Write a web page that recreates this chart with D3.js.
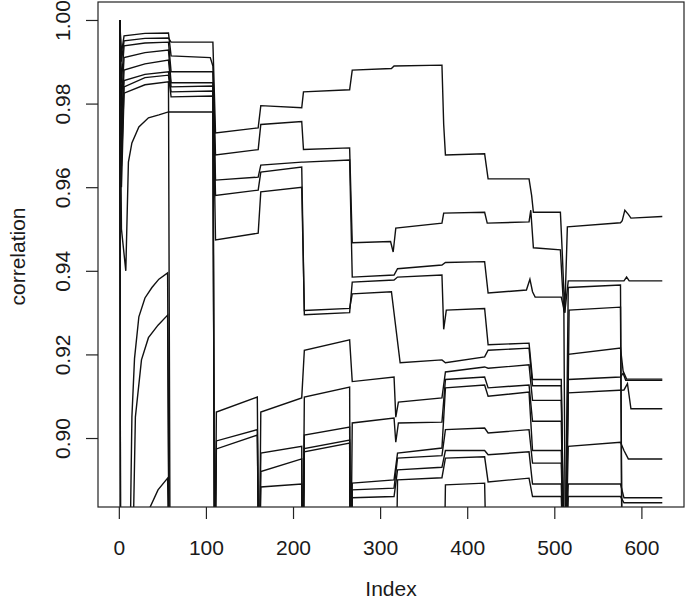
<!DOCTYPE html>
<html>
<head>
	<title>Correlation by Index</title>
	<script src="https://d3js.org/d3.v7.min.js"></script>
	<style>
	body { margin: 0; background: white; }
	text { font-family: "Liberation Sans", Arial, sans-serif; fill: #1a1a1a; }
	</style>
</head>
<body>
</body>
<script type="text/javascript">

// tick labels
const xTicks = [0, 100, 200, 300, 400, 500, 600]
const yTicks = [0.90, 0.92, 0.94, 0.96, 0.98, 1.00]

// series as [index, correlation] pairs
// anything under ~0.883 is below the plot window and gets clipped
const s1 = [[1,1],[3,0.99],[6,0.995],[30,0.9956],[57,0.9957],[60,0.9947],[108,0.9947],[111,0.973],[160,0.9742],[163,0.9795],[210,0.979],[212,0.9828],[265,0.9833],[268,0.988],[313,0.9884],[316,0.989],[371,0.9892],[373,0.975],[375,0.9677],[420,0.968],[422,0.965],[424,0.962],[471,0.962],[474,0.958],[476,0.954],[507,0.954],[509,0.945],[512,0.930],[515,0.9505],[576,0.9515],[578,0.952],[581,0.9545],[585,0.9535],[588,0.9526],[624,0.953]]
const s2 = [[1,1],[3,0.992],[6,0.9962],[30,0.9968],[57,0.9969],[60,0.9914],[105,0.991],[108,0.989],[111,0.9677],[160,0.969],[163,0.975],[210,0.9757],[212,0.969],[265,0.9694],[268,0.9467],[312,0.947],[315,0.9445],[318,0.9502],[371,0.9514],[373,0.9538],[420,0.954],[423,0.9514],[471,0.9517],[473,0.9545],[476,0.9455],[507,0.945],[511,0.930],[513,0.86],[517,0.9306],[576,0.9313],[578,0.86],[624,0.86]]
const s3 = [[1,1],[3,0.985],[6,0.9938],[30,0.9945],[57,0.9947],[60,0.9876],[108,0.9876],[111,0.9617],[160,0.9624],[163,0.9653],[210,0.966],[212,0.966],[265,0.9665],[268,0.9385],[316,0.939],[320,0.9405],[371,0.9414],[375,0.942],[420,0.9422],[424,0.9347],[468,0.9354],[472,0.938],[475,0.935],[478,0.9337],[508,0.9337],[512,0.930],[516,0.9376],[580,0.9376],[583,0.9385],[586,0.9376],[624,0.9376]]
const s4 = [[1,1],[3,0.98],[6,0.991],[30,0.9922],[57,0.9928],[60,0.985],[108,0.985],[111,0.958],[160,0.9593],[163,0.9636],[210,0.9648],[213,0.9295],[265,0.930],[268,0.9373],[316,0.9378],[320,0.9385],[371,0.939],[373,0.926],[376,0.9306],[420,0.931],[424,0.9223],[471,0.9227],[475,0.914],[508,0.914],[512,0.86],[516,0.936],[576,0.9366],[578,0.86],[624,0.86]]
const s5 = [[1,1],[3,0.975],[6,0.988],[30,0.9895],[57,0.9904],[60,0.984],[108,0.9842],[111,0.9474],[160,0.949],[163,0.9589],[210,0.96],[213,0.9305],[265,0.931],[268,0.9345],[313,0.935],[323,0.918],[371,0.9187],[375,0.918],[420,0.9194],[424,0.921],[471,0.9215],[475,0.9125],[508,0.9125],[512,0.86],[516,0.920],[576,0.9215],[579,0.916],[583,0.9141],[624,0.9141]]
const s6 = [[1,1],[3,0.97],[6,0.9855],[30,0.987],[57,0.9876],[60,0.9828],[108,0.983],[110,0.86],[161,0.86],[163,0.9062],[210,0.9096],[213,0.921],[265,0.9235],[268,0.9135],[316,0.9146],[318,0.905],[321,0.9086],[371,0.9096],[375,0.9158],[420,0.917],[424,0.9167],[471,0.9175],[475,0.909],[508,0.909],[512,0.86],[516,0.914],[576,0.9146],[579,0.9155],[582,0.9138],[624,0.9138]]
const s7 = [[1,1],[3,0.965],[6,0.984],[30,0.9862],[57,0.9868],[60,0.9816],[108,0.9818],[110,0.86],[161,0.86],[163,0.8964],[210,0.898],[211,0.86],[213,0.9098],[265,0.9122],[266,0.86],[268,0.9036],[316,0.9048],[318,0.899],[321,0.9036],[371,0.9038],[375,0.914],[420,0.9146],[424,0.912],[471,0.9127],[475,0.904],[508,0.904],[512,0.86],[516,0.9108],[580,0.9115],[584,0.913],[588,0.907],[624,0.907]]
const s8 = [[1,1],[3,0.96],[6,0.9825],[30,0.9845],[57,0.9852],[59,0.86],[110,0.86],[112,0.9062],[159,0.9098],[161,0.86],[163,0.892],[210,0.895],[211,0.86],[213,0.9007],[265,0.9026],[266,0.86],[268,0.8892],[316,0.890],[320,0.8964],[371,0.8976],[375,0.912],[420,0.9127],[424,0.910],[471,0.911],[475,0.897],[508,0.897],[512,0.86],[516,0.898],[576,0.899],[580,0.897],[585,0.895],[624,0.895]]
const s9 = [[1,1],[3,0.95],[8,0.94],[11,0.966],[15,0.9706],[23,0.9744],[34,0.9766],[46,0.9773],[57,0.978],[108,0.978],[110,0.86],[161,0.86],[163,0.8883],[210,0.889],[211,0.86],[213,0.8967],[265,0.8988],[266,0.86],[268,0.8876],[316,0.888],[320,0.8952],[371,0.8958],[375,0.902],[420,0.9024],[424,0.9012],[471,0.902],[475,0.894],[508,0.894],[512,0.86],[516,0.889],[576,0.889],[580,0.8857],[624,0.8857]]
const s10 = [[1,1],[2,0.86],[12,0.86],[15,0.905],[18,0.919],[23,0.929],[30,0.9335],[38,0.936],[46,0.938],[56,0.9395],[58,0.86],[110,0.86],[112,0.8993],[159,0.902],[161,0.86],[211,0.86],[213,0.8975],[265,0.8995],[266,0.86],[268,0.8857],[316,0.886],[320,0.8924],[371,0.893],[375,0.897],[420,0.897],[424,0.896],[471,0.8967],[475,0.889],[508,0.889],[512,0.86],[516,0.886],[576,0.886],[580,0.8845],[624,0.8845]]
const s11 = [[1,1],[2,0.86],[15,0.86],[19,0.905],[26,0.9187],[34,0.924],[45,0.927],[56,0.9294],[58,0.86],[110,0.86],[112,0.8974],[159,0.9007],[161,0.86],[318,0.86],[320,0.890],[371,0.8905],[375,0.8952],[420,0.8955],[424,0.8895],[471,0.8904],[475,0.886],[508,0.886],[512,0.86],[624,0.86]]
const s12 = [[1,1],[2,0.86],[34,0.86],[36,0.8835],[45,0.8876],[56,0.8904],[58,0.86],[373,0.86],[375,0.8888],[420,0.8892],[423,0.86],[624,0.86]]

const series = [s1, s2, s3, s4, s5, s6, s7, s8, s9, s10, s11, s12]

// set svg
const width = 685
const height = 601
const box = {left: 98, right: 684, top: 2, bottom: 507}

const svg = d3.select("body").append("svg")
		.attr("width", width)
		.attr("height", height)

// R style limits, index 1..624 padded by 4% each side
const n = 624
const pad = (n - 1) * 0.04
const x = d3.scaleLinear().domain([1 - pad, n + pad]).range([box.left, box.right])
const y = d3.scaleLinear().domain([0.8835, 1.0043]).range([box.bottom, box.top])

svg.append("clipPath").attr("id", "plotclip")
	.append("rect")
	.attr("x", box.left)
	.attr("y", box.top)
	.attr("width", box.right - box.left)
	.attr("height", box.bottom - box.top)

const line = d3.line()
	.x(d => x(d[0]))
	.y(d => y(d[1]))

svg.append("g")
	.attr("clip-path", "url(#plotclip)")
	.selectAll("path")
	.data(series)
	.enter()
	.append("path")
	.attr("d", line)
	.attr("fill", "none")
	.attr("stroke", "#111")
	.attr("stroke-width", 1.4)

// box round the plot
svg.append("rect")
	.attr("x", box.left)
	.attr("y", box.top)
	.attr("width", box.right - box.left)
	.attr("height", box.bottom - box.top)
	.attr("fill", "none")
	.attr("stroke", "#222")
	.attr("stroke-width", 1.2)

// x axis
const gx = svg.append("g")
	.attr("transform", "translate(0," + box.bottom + ")")
	.call(d3.axisBottom(x).tickValues(xTicks).tickSize(12))
gx.select(".domain").remove()
gx.selectAll("line").attr("stroke", "#222").attr("stroke-width", 1.2)
gx.selectAll("text")
	.attr("dy", null)
	.attr("y", 48)
	.attr("font-size", 21)
	.attr("fill", "#1a1a1a")

// y axis, labels turned like R does
const gy = svg.append("g")
	.attr("transform", "translate(" + box.left + ",0)")
	.call(d3.axisLeft(y).tickValues(yTicks).tickSize(12).tickFormat(d3.format(".2f")))
gy.select(".domain").remove()
gy.selectAll("line").attr("stroke", "#222").attr("stroke-width", 1.2)
gy.selectAll("text")
	.attr("x", null)
	.attr("dy", null)
	.attr("text-anchor", "middle")
	.attr("transform", "translate(-28,0) rotate(-90)")
	.attr("font-size", 21)
	.attr("fill", "#1a1a1a")

// axis titles
svg.append("text")
	.attr("x", (box.left + box.right) / 2)
	.attr("y", 596)
	.attr("text-anchor", "middle")
	.attr("font-size", 21)
	.text("Index")

svg.append("text")
	.attr("transform", "translate(25," + ((box.top + box.bottom) / 2 + 2) + ") rotate(-90)")
	.attr("text-anchor", "middle")
	.attr("font-size", 21)
	.text("correlation")

</script>
</html>
